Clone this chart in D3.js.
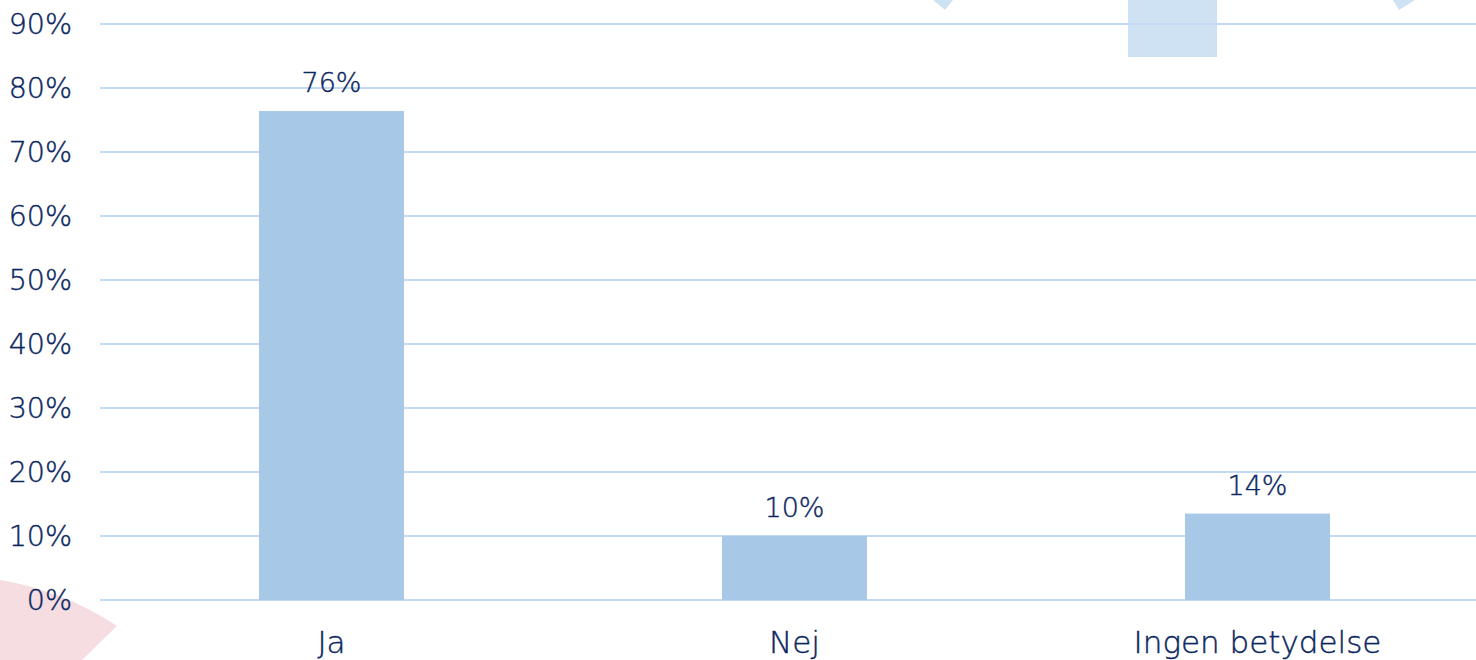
<!DOCTYPE html>
<html>
<head>
<meta charset="utf-8">
<script src="https://cdnjs.cloudflare.com/ajax/libs/d3/7.8.5/d3.min.js"></script>
<style>
  html, body { margin: 0; padding: 0; background: #fff; }
  svg text { font-family: "DejaVu Sans", sans-serif; font-weight: 200; fill: #0b2660; stroke: #0b2660; stroke-width: 0.4px; }
</style>
</head>
<body>
<svg id="chart" width="1476" height="660"></svg>
<script>
const categories = ["Ja", "Nej", "Ingen betydelse"];
const values = [76.4, 10.0, 13.5];
const valueLabels = ["76%", "10%", "14%"];
const yTicks = [0, 10, 20, 30, 40, 50, 60, 70, 80, 90];

const svg = d3.select("#chart");
const width = 1476, height = 660;

// background decorations
svg.append("path")
  .attr("d", "M0,580 A300,300 0 0 1 117,626 L82,660 L0,660 Z")
  .attr("fill", "#f5dde2");
svg.append("rect")
  .attr("x", 1128).attr("y", 0).attr("width", 89).attr("height", 57)
  .attr("fill", "#cfe2f4");
svg.append("path").attr("d", "M933,0 L945,10 L953,0 Z").attr("fill", "#cfe2f4");
svg.append("path").attr("d", "M1393,0 L1399,10 L1415,0 Z").attr("fill", "#cfe2f4");

const x = d3.scaleBand()
  .domain(categories)
  .range([100, 1489])
  .paddingInner(0.687)
  .paddingOuter(0.3435);

const y = d3.scaleLinear().domain([0, 90]).range([600, 24]);

// gridlines
svg.append("g")
  .selectAll("line")
  .data(yTicks)
  .join("line")
  .attr("x1", 100).attr("x2", width)
  .attr("y1", d => y(d)).attr("y2", d => y(d))
  .attr("stroke", "#c3daf6").attr("stroke-width", 2);

// y labels
svg.append("g")
  .selectAll("text")
  .data(yTicks)
  .join("text")
  .attr("x", 72).attr("y", d => y(d))
  .attr("dy", "0.35em")
  .attr("text-anchor", "end")
  .attr("font-size", 28.5)
  .text(d => d + "%");

// bars
svg.append("g")
  .selectAll("rect")
  .data(values)
  .join("rect")
  .attr("x", (d, i) => x(categories[i]))
  .attr("width", x.bandwidth())
  .attr("y", d => y(d))
  .attr("height", d => y(0) - y(d))
  .attr("fill", "#a7c8e6");

// value labels
svg.append("g")
  .selectAll("text")
  .data(values)
  .join("text")
  .attr("x", (d, i) => x(categories[i]) + x.bandwidth() / 2)
  .attr("y", d => y(d) - 19)
  .attr("text-anchor", "middle")
  .attr("font-size", 27)
  .text((d, i) => valueLabels[i]);

// category labels
svg.append("g")
  .selectAll("text")
  .data(categories)
  .join("text")
  .attr("x", d => x(d) + x.bandwidth() / 2)
  .attr("y", 642)
  .attr("dy", "0.35em")
  .attr("text-anchor", "middle")
  .attr("font-size", 31)
  .text(d => d);
</script>
</body>
</html>
